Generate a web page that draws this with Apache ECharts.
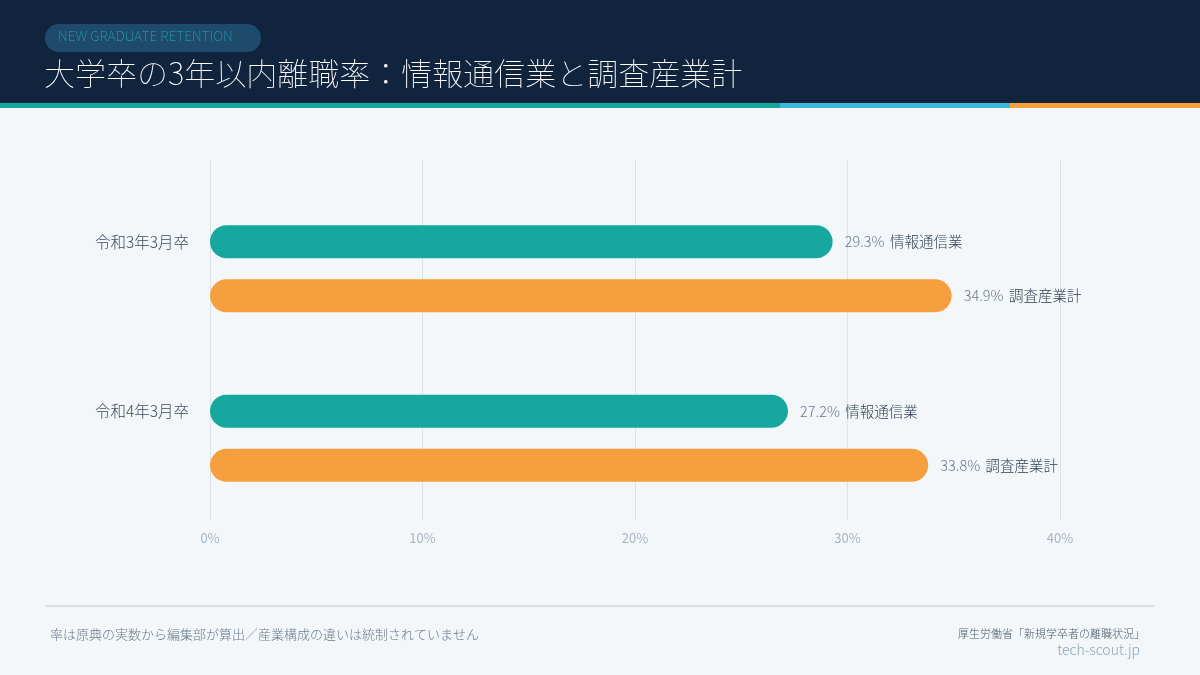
<!DOCTYPE html>
<html>
<head>
<meta charset="utf-8">
<script src="https://cdn.jsdelivr.net/npm/echarts@6/dist/echarts.min.js"></script>
<style>
  html, body { margin: 0; padding: 0; background: #f3f7fa; }
  #chart { width: 1200px; height: 675px; }
</style>
</head>
<body>
<div id="chart"></div>
<script>
// data
const categories = ['令和3年3月卒', '令和4年3月卒'];
const seriesNames = ['情報通信業', '調査産業計'];
const infoComm = [29.3, 27.2];
const allIndustry = [34.9, 33.8];
const xTicks = [0, 10, 20, 30, 40];

const TEAL = '#16a89e';
const ORANGE = '#f59f3e';
const FONT = '"Noto Sans CJK JP", "Noto Sans", sans-serif';
const THIN = '"Noto Sans CJK JP Thin", "Noto Sans CJK JP Light", "Noto Sans CJK JP", sans-serif';

function barLabel() {
  return {
    show: true,
    position: 'right',
    distance: 12,
    fontFamily: FONT,
    formatter: p => '{v|' + p.value.toFixed(1) + '%}  {n|' + p.seriesName + '}',
    rich: {
      v: { fontSize: 14.5, color: '#6b7a8c', fontFamily: FONT, fontWeight: 300 },
      n: { fontSize: 14.5, color: '#2d3d50', fontFamily: FONT, fontWeight: 300 }
    }
  };
}

const chart = echarts.init(document.getElementById('chart'));
chart.setOption({
  backgroundColor: '#f3f7fa',
  animation: false,
  graphic: [
    { type: 'rect', shape: { x: 0, y: 0, width: 1200, height: 103 }, style: { fill: '#10243e' }, silent: true },
    { type: 'rect', shape: { x: 0, y: 103, width: 780, height: 5 }, style: { fill: TEAL } },
    { type: 'rect', shape: { x: 780, y: 103, width: 230, height: 5 }, style: { fill: '#3ab8e0' } },
    { type: 'rect', shape: { x: 1010, y: 103, width: 190, height: 5 }, style: { fill: ORANGE } },
    { type: 'rect', shape: { x: 45, y: 24, width: 216, height: 28, r: 14 }, style: { fill: '#1e4a6b' } },
    { type: 'text', left: 58, top: 29, style: { text: 'NEW GRADUATE RETENTION', fill: '#2aa6bb', font: '200 13.9px ' + THIN } },
    { type: 'text', left: 44, top: 58, style: { text: '大学卒の3年以内離職率：情報通信業と調査産業計', fill: '#ffffff', font: '200 31px ' + THIN } },
    { type: 'rect', shape: { x: 45, y: 605, width: 1110, height: 2 }, style: { fill: '#d6dfe6' } },
    { type: 'text', left: 50, top: 628, style: { text: '率は原典の実数から編集部が算出／産業構成の違いは統制されていません', fill: '#6b7a8c', font: '300 13px ' + FONT } },
    { type: 'text', right: 55, top: 628, style: { text: '厚生労働省「新規学卒者の離職状況」', fill: '#4a5a6a', font: '300 11px ' + FONT, align: 'right' } },
    { type: 'text', right: 60, top: 643, style: { text: 'tech-scout.jp', fill: '#8fa5b8', font: '300 14px ' + FONT, align: 'right' } }
  ],
  grid: [
    { left: 210, right: 140, top: 160, bottom: 155 },
    { left: 210, right: 140, top: 184, bottom: 152 }
  ],
  xAxis: [
    {
      gridIndex: 0, type: 'value', min: xTicks[0], max: xTicks[xTicks.length - 1], interval: 10,
      axisLine: { show: false }, axisTick: { show: false },
      axisLabel: { formatter: '{value}%', color: '#a9b6c3', fontSize: 13, fontFamily: FONT, margin: 12 },
      splitLine: { lineStyle: { color: '#dbe3ea', width: 1 } }
    },
    {
      gridIndex: 1, type: 'value', min: 0, max: 40, show: false
    }
  ],
  yAxis: [
    { gridIndex: 0, type: 'value', show: false },
    {
      gridIndex: 1, type: 'category', data: categories, inverse: true,
      axisLine: { show: false }, axisTick: { show: false },
      axisLabel: {
        color: '#3d4b5c', fontSize: 15.5, fontFamily: FONT, fontWeight: 300, margin: 21,
        lineHeight: 54, formatter: v => v + '\n '
      }
    }
  ],
  series: [
    {
      name: seriesNames[0], type: 'bar', xAxisIndex: 1, yAxisIndex: 1,
      data: infoComm, barWidth: 33, barGap: '64%',
      itemStyle: { color: TEAL, borderRadius: 16.5 },
      label: barLabel()
    },
    {
      name: seriesNames[1], type: 'bar', xAxisIndex: 1, yAxisIndex: 1,
      data: allIndustry, barWidth: 33, barGap: '64%',
      itemStyle: { color: ORANGE, borderRadius: 16.5 },
      label: barLabel()
    }
  ]
});
</script>
</body>
</html>
